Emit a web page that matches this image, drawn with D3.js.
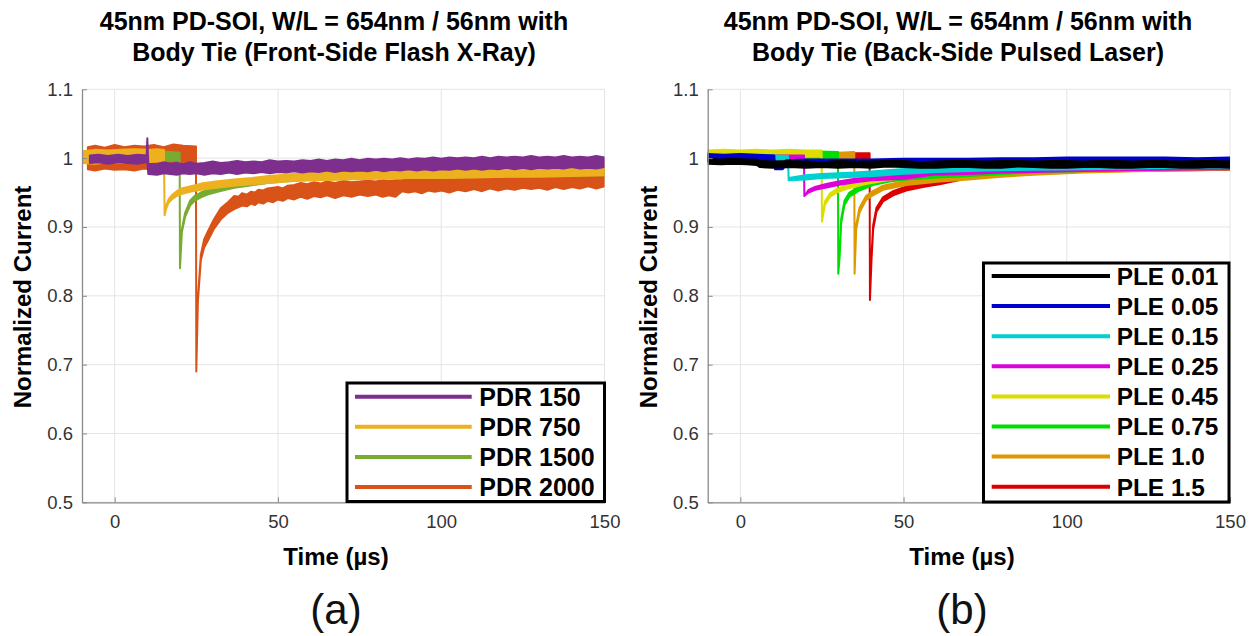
<!DOCTYPE html>
<html><head><meta charset="utf-8">
<script src="https://cdn.jsdelivr.net/npm/d3@7"></script>
<style>
body{margin:0;background:#fff}
svg{display:block}
text{font-family:"Liberation Sans",Arial,Helvetica,sans-serif}
</style>
</head><body>
<svg id="chart" width="1255" height="636"></svg>
<script>
// ---------- axis ticks ----------
const xTicks = [0, 50, 100, 150];
const xTickLabels = ["0", "50", "100", "150"];
const yTicks = [0.5, 0.6, 0.7, 0.8, 0.9, 1.0, 1.1];
const yTickLabels = ["0.5", "0.6", "0.7", "0.8", "0.9", "1", "1.1"];

// ---------- titles / labels ----------
const titleA = ["45nm PD-SOI, W/L = 654nm / 56nm with", "Body Tie (Front-Side Flash X-Ray)"];
const titleB = ["45nm PD-SOI, W/L = 654nm / 56nm with", "Body Tie (Back-Side Pulsed Laser)"];
const xLabel = "Time (\u00B5s)";
const yLabel = "Normalized Current";

// ---------- panel (a): series names / colors ----------
const namesA = ["PDR 150", "PDR 750", "PDR 1500", "PDR 2000"];
const colorsA = ["#7E2F8E", "#EDB120", "#77AC30", "#D95319"];

// each point: [time (us), lower edge of noisy trace, upper edge of noisy trace]
const pdr150 = [
[-7.6,0.993,1.004],[-5,0.994,1.005],[-2,0.992,1.003],[1,0.994,1.005],[4,0.993,1.003],[7,0.992,1.005],[9.8,0.994,1.004],
[10,0.995,1.029],[10.3,0.977,0.992],[13,0.976,0.991],[15,0.978,0.994],[17,0.977,0.992],[19,0.976,0.993],[21,0.978,0.991],[23,0.977,0.994],
[25,0.978,0.992],[27.5,0.976,0.993],[30,0.978,0.995],[32.5,0.977,0.993],[35,0.979,0.994],[37.5,0.977,0.996],[40,0.979,0.994],
[42.5,0.978,0.995],[45,0.980,0.994],[47.5,0.978,0.997],[50,0.980,0.995],[52.5,0.979,0.996],[55,0.981,0.995],[57.5,0.979,0.997],
[60,0.981,0.996],[62.5,0.980,0.998],[65,0.982,0.996],[67.5,0.980,0.998],[70,0.982,0.997],[72.5,0.981,0.999],[75,0.982,0.997],
[77.5,0.981,0.999],[80,0.983,0.998],[82.5,0.981,0.999],[85,0.983,0.998],[87.5,0.982,1.000],[90,0.984,0.998],[92.5,0.982,1.000],
[95,0.984,0.999],[97.5,0.982,1.001],[100,0.984,0.999],[102.5,0.983,1.001],[105,0.985,1.000],[107.5,0.983,1.001],[110,0.985,1.000],
[112.5,0.983,1.002],[115,0.985,1.000],[117.5,0.984,1.002],[120,0.986,1.001],[122.5,0.984,1.002],[125,0.986,1.001],[127.5,0.984,1.003],
[130,0.986,1.001],[132.5,0.985,1.002],[135,0.986,1.001],[137.5,0.985,1.003],[140,0.987,1.001],[142.5,0.985,1.002],[145,0.986,1.001],
[147.5,0.985,1.003],[150,0.987,1.001]
];
const pdr750 = [
[-10,0.993,1.010],[-6,0.992,1.012],[-2,0.994,1.011],[2,0.993,1.012],[6,0.995,1.013],[10,0.994,1.012],[13,0.995,1.013],[15.1,0.996,1.012],
[15.3,0.917,0.917],[15.8,0.927,0.931],[16.5,0.935,0.940],[17.5,0.940,0.946],[19,0.945,0.952],[20.5,0.948,0.956],[23,0.951,0.959],
[26.5,0.954,0.963],[31,0.957,0.966],[36.5,0.960,0.969],[42,0.962,0.971],[47,0.964,0.974],[52,0.966,0.976],[57,0.967,0.978],
[62,0.968,0.979],[70,0.969,0.981],[80,0.970,0.982],[90,0.971,0.983],[100,0.971,0.984],[110,0.972,0.985],[120,0.973,0.986],
[130,0.973,0.986],[140,0.974,0.987],[150,0.975,0.989]
];
const pdr1500 = [
[-10,0.998,1.008],[-7,0.996,1.009],[-3,0.997,1.010],[1,0.996,1.008],[5,0.997,1.010],[9,0.996,1.009],[13,0.997,1.010],[17,0.996,1.009],[19.9,0.997,1.008],
[20,0.840,0.840],[20.6,0.893,0.897],[21.6,0.915,0.921],[23.1,0.931,0.938],[24.5,0.938,0.945],[26.4,0.943,0.950],[29,0.948,0.955],
[31.5,0.951,0.959],[34,0.954,0.962],[36.6,0.957,0.965],[41,0.960,0.968],[46.8,0.964,0.972],[52,0.966,0.974],[57,0.968,0.976],
[65,0.969,0.977],[75,0.970,0.978],[85,0.971,0.979],[100,0.972,0.980],[115,0.973,0.981],[130,0.974,0.982],[150,0.975,0.983]
];
const pdr2000 = [
[-8.2,0.984,1.016],[-6,0.982,1.018],[-3,0.985,1.015],[0,0.983,1.019],[3,0.984,1.016],[6,0.982,1.018],[9,0.985,1.017],[12,0.983,1.019],
[15,0.985,1.016],[18,0.984,1.020],[21,0.986,1.018],[24.9,0.985,1.017],
[25,0.690,0.690],[25.5,0.793,0.797],[26.4,0.852,0.860],[27.4,0.870,0.882],[28.4,0.879,0.892],[30.5,0.898,0.912],[32.5,0.911,0.927],
[34.5,0.920,0.935],[36.6,0.926,0.945],[38,0.929,0.944],[39,0.931,0.949],[40.5,0.930,0.947],[41.7,0.934,0.951],[43,0.932,0.950],
[44,0.936,0.954],[45.5,0.934,0.953],[46.8,0.938,0.956],[48.5,0.936,0.957],[50,0.940,0.958],[51.5,0.938,0.956],[53,0.942,0.960],
[55,0.940,0.961],[57,0.944,0.964],[59,0.941,0.962],[61,0.945,0.965],[63,0.943,0.963],[65,0.946,0.966],[67.5,0.942,0.964],
[70,0.946,0.967],[72.5,0.944,0.965],[75,0.947,0.966],[77.5,0.945,0.967],[80,0.947,0.966],[82,0.944,0.968],[84,0.946,0.967],
[86,0.944,0.968],[88,0.952,0.968],[90,0.950,0.970],[92,0.952,0.969],[94,0.949,0.971],[96,0.953,0.971],[98,0.951,0.970],
[100,0.953,0.973],[102.5,0.950,0.972],[105,0.954,0.973],[107.5,0.952,0.975],[110,0.955,0.974],[112.5,0.952,0.976],[115,0.956,0.975],
[117.5,0.953,0.977],[120,0.956,0.976],[122.5,0.954,0.978],[125,0.957,0.977],[127.5,0.955,0.979],[130,0.957,0.978],[132.5,0.954,0.980],
[135,0.958,0.979],[137.5,0.955,0.981],[140,0.958,0.980],[142.5,0.956,0.982],[145,0.959,0.981],[147.5,0.956,0.983],[150,0.959,0.982]
];

// ---------- panel (b): series names / colors ----------
const namesB = ["PLE 0.01", "PLE 0.05", "PLE 0.15", "PLE 0.25", "PLE 0.45", "PLE 0.75", "PLE 1.0", "PLE 1.5"];
const colorsB = ["#000000", "#0000CC", "#00D0D0", "#DD00DD", "#DDDD00", "#00DD00", "#DD9A00", "#DD0000"];

const ple001 = [
[-10,0.992,0.999],[-6,0.991,0.998],[-2,0.992,0.999],[2,0.991,0.998],[5,0.990,0.998],[6,0.987,0.996],[10,0.986,0.995],[15,0.987,0.996],
[20,0.986,0.995],[25,0.987,0.994],[30,0.986,0.996],[35,0.987,0.995],[40,0.986,0.995],[45,0.988,0.996],[50,0.987,0.996],[55,0.986,0.994],
[60,0.986,0.995],[65,0.987,0.996],[70,0.987,0.996],[75,0.986,0.995],[80,0.986,0.996],[85,0.988,0.996],[90,0.987,0.995],[95,0.986,0.996],
[100,0.986,0.996],[105,0.987,0.995],[110,0.987,0.996],[115,0.986,0.996],[120,0.986,0.995],[125,0.987,0.996],[130,0.987,0.996],
[135,0.986,0.995],[140,0.986,0.996],[145,0.987,0.996],[150,0.986,0.995]
];
const ple005 = [
[-10,0.996,1.006],[-5,0.995,1.005],[0,0.996,1.006],[5,0.995,1.005],[10.4,0.995,1.004],[10.6,0.984,0.990],[13,0.984,0.991],[14,0.990,0.997],
[20,0.991,0.998],[30,0.990,0.998],[40,0.991,0.998],[50,0.991,0.999],[60,0.992,0.999],[70,0.991,0.999],[80,0.992,1.000],[90,0.991,1.000],
[100,0.993,1.001],[110,0.992,1.001],[120,0.993,1.001],[130,0.992,1.001],[140,0.993,1.000],[150,0.993,1.001]
];
const ple015 = [
[-10,0.996,1.004],[0,0.995,1.004],[10,0.996,1.004],[14.6,0.996,1.003],[14.8,0.968,0.971],[20,0.969,0.975],[25,0.971,0.977],[30,0.972,0.978],
[35,0.973,0.979],[41,0.974,0.981],[49,0.977,0.984],[60,0.980,0.987],[75,0.982,0.989],[90,0.983,0.990],[105,0.984,0.991],[120,0.985,0.991],
[135,0.986,0.992],[150,0.986,0.993]
];
const ple025 = [
[-10,0.996,1.004],[0,0.996,1.005],[10,0.995,1.004],[19.5,0.996,1.004],[19.6,0.945,0.945],[20.9,0.950,0.954],[22.9,0.954,0.958],[26,0.957,0.962],
[30,0.961,0.966],[35.2,0.965,0.970],[40.3,0.968,0.973],[50.5,0.970,0.976],[59,0.976,0.982],[70,0.977,0.983],[80,0.979,0.984],[90,0.980,0.985],
[100,0.981,0.986],[115,0.982,0.987],[130,0.983,0.988],[150,0.984,0.989]
];
const ple045 = [
[-10,1.002,1.011],[-5,1.003,1.012],[0,1.002,1.011],[5,1.003,1.012],[10,1.002,1.011],[15,1.003,1.012],[20,1.002,1.011],[24.9,1.002,1.011],
[25,0.908,0.908],[25.9,0.932,0.937],[27.5,0.944,0.949],[29.5,0.950,0.955],[33,0.956,0.962],[38,0.962,0.968],[45,0.968,0.974],[55,0.974,0.980],
[65,0.979,0.985],[80,0.984,0.990],[95,0.988,0.995],[110,0.990,0.998],[130,0.991,0.999],[150,0.992,1.000]
];
const ple075 = [
[-10,1.000,1.009],[0,1.001,1.010],[10,1.000,1.009],[20,1.001,1.010],[29.9,1.000,1.009],[30,0.832,0.832],[30.4,0.855,0.859],[30.9,0.906,0.912],
[31.9,0.932,0.938],[33.4,0.944,0.950],[36.5,0.953,0.959],[40.6,0.961,0.967],[45.7,0.966,0.972],[50.8,0.969,0.976],[60,0.972,0.978],[70,0.974,0.980],
[80,0.977,0.983],[95,0.980,0.986],[110,0.982,0.988],[130,0.984,0.990],[150,0.985,0.991]
];
const ple10 = [
[-10,0.999,1.008],[0,1.000,1.009],[10,0.999,1.008],[20,1.000,1.009],[30,0.999,1.008],[34.9,1.000,1.009],[35,0.832,0.832],[35.5,0.897,0.903],
[36.5,0.921,0.928],[38.5,0.939,0.945],[40.6,0.946,0.952],[43.7,0.954,0.960],[50.8,0.961,0.967],[61,0.966,0.973],[70,0.969,0.976],[80,0.973,0.979],
[90,0.976,0.982],[105,0.979,0.985],[120,0.981,0.987],[135,0.982,0.988],[150,0.983,0.989]
];
const ple15 = [
[-10,0.999,1.007],[0,1.000,1.008],[10,0.999,1.007],[20,1.000,1.008],[30,0.999,1.007],[39.6,1.000,1.007],[39.7,0.794,0.794],[40.2,0.854,0.860],
[40.7,0.897,0.903],[41.7,0.922,0.928],[43.7,0.937,0.943],[46.8,0.946,0.952],[50.8,0.953,0.959],[55.9,0.958,0.964],[61,0.962,0.968],[69,0.970,0.976],
[79.6,0.975,0.981],[92,0.978,0.984],[100,0.980,0.986],[115,0.981,0.987],[130,0.982,0.988],[150,0.983,0.989]
];

const seriesA = [pdr150, pdr750, pdr1500, pdr2000];
const seriesB = [ple001, ple005, ple015, ple025, ple045, ple075, ple10, ple15];

// ---------- drawing ----------
const svg = d3.select("#chart");
const xDomain = [-10, 150];
const yDomain = [0.5, 1.1];

function drawPanel(cfg) {
  const x = d3.scaleLinear().domain(xDomain).range([cfg.left, cfg.right]);
  const y = d3.scaleLinear().domain(yDomain).range([cfg.bottom, cfg.top]);
  const g = svg.append("g");
  const clipId = "clip" + cfg.id;
  svg.append("defs").append("clipPath").attr("id", clipId)
    .append("rect").attr("x", cfg.left).attr("y", cfg.top)
    .attr("width", cfg.right - cfg.left).attr("height", cfg.bottom - cfg.top);

  // grid
  g.append("g").selectAll("line").data(xTicks).join("line")
    .attr("x1", d => x(d)).attr("x2", d => x(d))
    .attr("y1", cfg.top).attr("y2", cfg.bottom)
    .attr("stroke", "#e4e4e4").attr("stroke-width", 1);
  g.append("g").selectAll("line").data(yTicks).join("line")
    .attr("x1", cfg.left).attr("x2", cfg.right)
    .attr("y1", d => y(d)).attr("y2", d => y(d))
    .attr("stroke", "#e4e4e4").attr("stroke-width", 1);

  // data traces (noisy band drawn as area outline)
  const area = d3.area().x(d => x(d[0])).y0(d => y(d[1])).y1(d => y(d[2]));
  const traces = g.append("g").attr("clip-path", `url(#${clipId})`);
  cfg.drawOrder.forEach(i => {
    traces.append("path").datum(cfg.series[i])
      .attr("d", area)
      .attr("fill", cfg.colors[i])
      .attr("stroke", cfg.colors[i])
      .attr("stroke-width", 2)
      .attr("stroke-linejoin", "round");
  });

  // axes
  const axColor = "#8a8a8a";
  const xAxis = d3.axisBottom(x).tickValues(xTicks)
    .tickFormat((d, i) => xTickLabels[i]).tickSizeInner(-5).tickSizeOuter(0).tickPadding(13);
  const yAxis = d3.axisLeft(y).tickValues(yTicks)
    .tickFormat((d, i) => yTickLabels[i]).tickSizeInner(-5).tickSizeOuter(0).tickPadding(9);
  const gx = g.append("g").attr("transform", `translate(0,${cfg.bottom})`).call(xAxis);
  const gy = g.append("g").attr("transform", `translate(${cfg.left},0)`).call(yAxis);
  [gx, gy].forEach(a => {
    a.select(".domain").attr("stroke", axColor).attr("stroke-width", 1.3);
    a.selectAll(".tick line").attr("stroke", axColor).attr("stroke-width", 1);
    a.selectAll(".tick text").attr("fill", "#333").attr("font-size", 18.5)
      .style("font-family", '"Liberation Sans", Arial, sans-serif');
  });

  // titles
  const cx = cfg.labelCx;
  g.append("text").attr("x", cfg.titleCx).attr("y", 30).attr("text-anchor", "middle")
    .attr("font-size", 25).attr("font-weight", "bold").attr("fill", "#000").text(cfg.title[0]);
  g.append("text").attr("x", cfg.titleCx).attr("y", 61).attr("text-anchor", "middle")
    .attr("font-size", 25).attr("font-weight", "bold").attr("fill", "#000").text(cfg.title[1]);

  // axis labels
  g.append("text").attr("x", cx).attr("y", 565).attr("text-anchor", "middle")
    .attr("font-size", 24).attr("font-weight", "bold").text(xLabel);
  g.append("text").attr("transform", `translate(${cfg.yLabelX},297) rotate(-90)`)
    .attr("text-anchor", "middle").attr("font-size", 24).attr("font-weight", "bold").text(yLabel);

  // panel letter
  g.append("text").attr("x", cx).attr("y", 624).attr("text-anchor", "middle")
    .attr("font-size", 42).attr("fill", "#111").text(cfg.letter);

  // legend
  const L = cfg.legend;
  const lg = g.append("g");
  lg.append("rect").attr("x", L.x).attr("y", L.y).attr("width", L.w).attr("height", L.h)
    .attr("fill", "#fff").attr("stroke", "#000").attr("stroke-width", 3);
  cfg.names.forEach((n, i) => {
    const ry = L.row0 + i * L.step;
    lg.append("line").attr("x1", L.lx1).attr("x2", L.lx2).attr("y1", ry).attr("y2", ry)
      .attr("stroke", cfg.colors[i]).attr("stroke-width", 4);
    lg.append("text").attr("x", L.tx).attr("y", ry + 8.8).attr("font-size", L.fs)
      .attr("font-weight", "bold").attr("fill", "#000").text(n);
  });
}

drawPanel({
  id: "A", left: 82, right: 604.5, top: 89.3, bottom: 502.3,
  series: seriesA, colors: colorsA, names: namesA, drawOrder: [3, 2, 1, 0],
  title: titleA, titleCx: 334, labelCx: 336, yLabelX: 31, letter: "(a)",
  legend: {x: 347, y: 383, w: 257.5, h: 118.5, row0: 396.7, step: 30.1, lx1: 355, lx2: 471.7, tx: 479.3, fs: 25}
});
drawPanel({
  id: "B", left: 707.7, right: 1230, top: 89.3, bottom: 502.3,
  series: seriesB, colors: colorsB, names: namesB, drawOrder: [7, 6, 5, 4, 3, 2, 1, 0],
  title: titleB, titleCx: 958, labelCx: 962, yLabelX: 657, letter: "(b)",
  legend: {x: 983.5, y: 263, w: 245.5, h: 239, row0: 276, step: 30.1, lx1: 991.7, lx2: 1110, tx: 1116.7, fs: 24.4}
});
</script>
</body></html>
